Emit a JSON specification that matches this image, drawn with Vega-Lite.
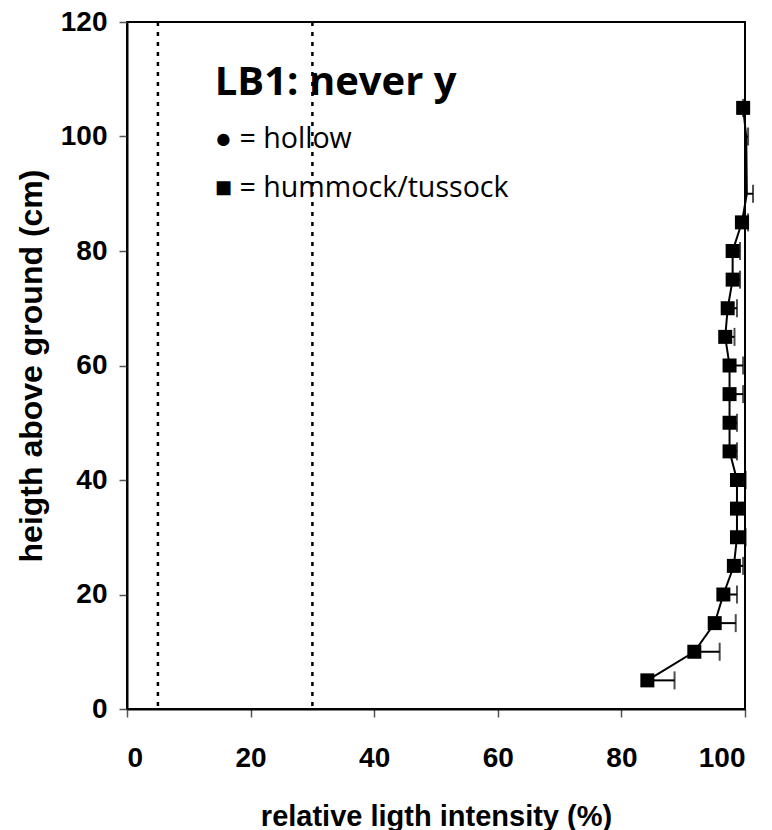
{
  "$schema": "https://vega.github.io/schema/vega-lite/v6.json",
  "width": 618,
  "height": 687,
  "autosize": "none",
  "padding": {"left": 127, "top": 22, "right": 27, "bottom": 121},
  "background": "white",
  "config": {
    "view": {"stroke": "black", "strokeWidth": 2},
    "axis": {
      "grid": false,
      "domainColor": "black",
      "domainWidth": 2,
      "tickColor": "#555",
      "tickWidth": 1.5,
      "tickSize": 8,
      "labelFont": "Liberation Sans",
      "labelFontWeight": "bold",
      "labelFontSize": 28,
      "labelColor": "black",
      "titleFont": "Liberation Sans",
      "titleFontWeight": "bold",
      "titleColor": "black"
    }
  },
  "datasets": {
    "pts": [
      {"height": 5, "light": 84.2, "hi": 88.6},
      {"height": 10, "light": 91.8, "hi": 95.9},
      {"height": 15, "light": 95.1, "hi": 98.5},
      {"height": 20, "light": 96.5, "hi": 98.7},
      {"height": 25, "light": 98.2, "hi": 99.7},
      {"height": 30, "light": 98.7, "hi": 100.1},
      {"height": 35, "light": 98.7, "hi": 100.0},
      {"height": 40, "light": 98.7, "hi": 100.1},
      {"height": 45, "light": 97.5, "hi": 98.7},
      {"height": 50, "light": 97.5, "hi": 98.7},
      {"height": 55, "light": 97.5, "hi": 99.7},
      {"height": 60, "light": 97.5, "hi": 99.7},
      {"height": 65, "light": 96.8, "hi": 98.3},
      {"height": 70, "light": 97.2, "hi": 98.7},
      {"height": 75, "light": 98.0, "hi": 99.2},
      {"height": 80, "light": 98.0, "hi": 99.2},
      {"height": 85, "light": 99.5, "hi": 100.5},
      {"height": 90, "light": 100.3, "hi": 101.3},
      {"height": 100, "light": 100.2, "hi": 100.5},
      {"height": 105, "light": 99.7, "hi": 99.7}
    ],
    "refs": [{"light": 5}, {"light": 30}],
    "notes": [
      {"light": 14.2, "height": 107.2, "label": "LB1: never y", "kind": "title"},
      {"light": 14.2, "height": 98.0, "label": "● = hollow", "kind": "item"},
      {"light": 14.2, "height": 89.5, "label": "■ = hummock/tussock", "kind": "item"}
    ]
  },
  "layer": [
    {
      "data": {"name": "refs"},
      "mark": {"type": "rule", "color": "black", "strokeWidth": 2.5, "strokeDash": [4, 6]},
      "encoding": {
        "x": {"field": "light", "type": "quantitative", "scale": {"domain": [0, 100]},
          "axis": {"values": [0, 20, 40, 60, 80, 100], "title": "relative ligth intensity (%)", "titleFontSize": 29, "labelPadding": 27, "titlePadding": 30}}
      }
    },
    {
      "data": {"name": "pts"},
      "mark": {"type": "rule", "color": "black", "strokeWidth": 2},
      "encoding": {
        "x": {"field": "light", "type": "quantitative"},
        "x2": {"field": "hi"},
        "y": {"field": "height", "type": "quantitative", "scale": {"domain": [0, 120]},
          "axis": {"values": [0, 20, 40, 60, 80, 100, 120], "title": "heigth above ground (cm)", "titleFontSize": 32, "labelPadding": 12, "titlePadding": 12}}
      }
    },
    {
      "data": {"name": "pts"},
      "mark": {"type": "tick", "orient": "vertical", "color": "black", "size": 18, "thickness": 2},
      "encoding": {
        "x": {"field": "hi", "type": "quantitative"},
        "y": {"field": "height", "type": "quantitative"}
      }
    },
    {
      "data": {"name": "pts"},
      "mark": {"type": "line", "color": "black", "strokeWidth": 2},
      "encoding": {
        "x": {"field": "light", "type": "quantitative"},
        "y": {"field": "height", "type": "quantitative"},
        "order": {"field": "height", "type": "quantitative"}
      }
    },
    {
      "data": {"name": "pts"},
      "transform": [{"filter": "datum.light <= 100"}],
      "mark": {"type": "point", "shape": "square", "filled": true, "color": "black", "size": 196, "opacity": 1},
      "encoding": {
        "x": {"field": "light", "type": "quantitative"},
        "y": {"field": "height", "type": "quantitative"}
      }
    },
    {
      "data": {"name": "notes"},
      "transform": [{"filter": "datum.kind == 'title'"}],
      "mark": {"type": "text", "align": "left", "baseline": "alphabetic", "font": "Open Sans", "fontWeight": "bold", "fontSize": 40, "color": "black"},
      "encoding": {
        "x": {"field": "light", "type": "quantitative"},
        "y": {"field": "height", "type": "quantitative"},
        "text": {"field": "label"}
      }
    },
    {
      "data": {"name": "notes"},
      "transform": [{"filter": "datum.kind == 'item'"}],
      "mark": {"type": "text", "align": "left", "baseline": "alphabetic", "font": "Open Sans", "fontSize": 28.6, "color": "black"},
      "encoding": {
        "x": {"field": "light", "type": "quantitative"},
        "y": {"field": "height", "type": "quantitative"},
        "text": {"field": "label"}
      }
    }
  ]
}
